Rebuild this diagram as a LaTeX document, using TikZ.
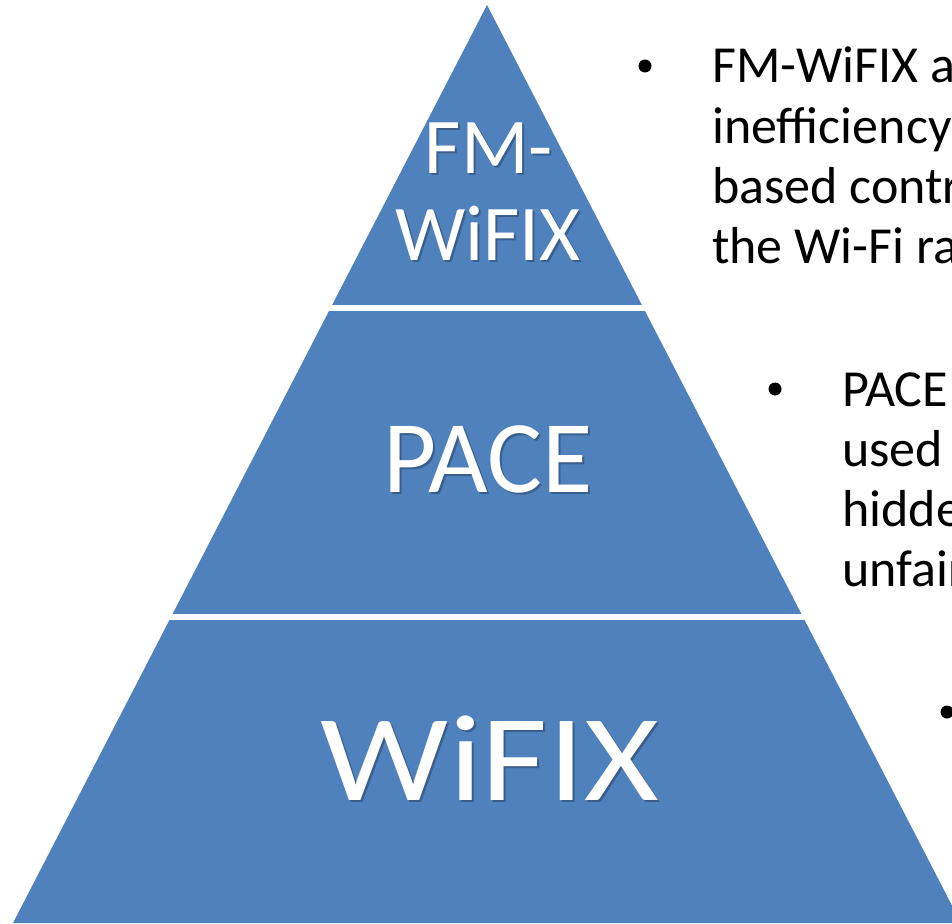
\documentclass[tikz,border=0pt]{standalone}
\usepackage{fontspec}
\setmainfont{Carlito}
\definecolor{pyrblue}{HTML}{4F81BD}
\definecolor{shadowc}{HTML}{1F3550}
\begin{document}
\begin{tikzpicture}[x=1pt,y=-1pt,
  lvl/.style={anchor=base,text=white,inner sep=0pt},
  lvlshadow/.style={anchor=base,text=shadowc,opacity=0.45,inner sep=0pt},
  bodytxt/.style={anchor=base west,inner sep=0pt,font=\fontsize{52}{60}\selectfont},
  bulletdot/.style={circle,fill=black,inner sep=0pt,minimum size=13pt}]
\useasboundingbox (0,0) rectangle (952,923);
\clip (0,0) rectangle (952,923);
\coordinate (apex) at (487,5);
\coordinate (bl) at (13,923);
\coordinate (br) at (961,923);
\fill[pyrblue] (apex) -- (br) -- (bl) -- cycle;
\fill[white] (0,305) rectangle (952,311);
\fill[white] (0,614) rectangle (952,620);
% level labels with soft shadow
\begin{scope}[shift={(2,2)}]
\node[lvlshadow,font=\fontsize{79}{87}\selectfont] at (489,173) {FM-};
\node[lvlshadow,font=\fontsize{79}{87}\selectfont] at (488,260) {WiFIX};
\node[lvlshadow,font=\fontsize{103}{120}\selectfont] at (488,492) {PACE};
\node[lvlshadow,font=\fontsize{123}{140}\selectfont] at (490,800) {\scalebox{1.17}[1]{WiFIX}};
\end{scope}
\node[lvl,font=\fontsize{79}{87}\selectfont] (fm1) at (489,173) {FM-};
\node[lvl,font=\fontsize{79}{87}\selectfont] (fm2) at (488,260) {WiFIX};
\node[lvl,font=\fontsize{103}{120}\selectfont] (pace) at (488,492) {PACE};
\node[lvl,font=\fontsize{123}{140}\selectfont] (wifix) at (490,800) {\scalebox{1.17}[1]{WiFIX}};
% right-hand bullets (cut off at the page edge)
\node[bulletdot] (b1) at (645,66) {};
\node[bodytxt] (t11) at (712,83) {FM-WiFIX a};
\node[bodytxt] (t12) at (712,143) {inefficiency};
\node[bodytxt] (t13) at (712,203) {based contr};
\node[bodytxt] (t14) at (712,263) {the Wi-Fi ra};
\node[bulletdot] (b2) at (775,389) {};
\node[bodytxt] (t21) at (842,406) {PACE};
\node[bodytxt] (t22) at (842,466) {used};
\node[bodytxt] (t23) at (842,526) {hidde};
\node[bodytxt] (t24) at (842,586) {unfair};
\node[bulletdot] (b3) at (947,712) {};
\end{tikzpicture}
\end{document}
